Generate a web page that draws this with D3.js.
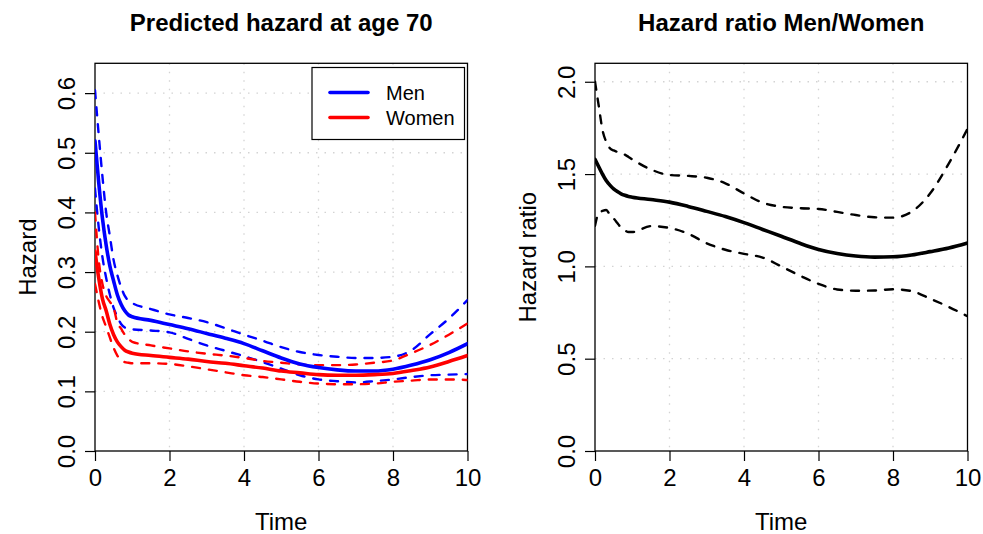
<!DOCTYPE html>
<html>
<head>
<meta charset="utf-8">
<script src="https://cdn.jsdelivr.net/npm/d3@7/dist/d3.min.js"></script>
<style>
  html, body { margin: 0; padding: 0; background: #fff; }
  svg { display: block; font-family: "Liberation Sans", Arial, Helvetica, sans-serif; }
</style>
</head>
<body>
<svg id="chart" width="983" height="534"></svg>
<script>
// Follow-up time (years) at which each curve is read
const time = [0, 0.1, 0.2, 0.3, 0.4, 0.5, 0.6, 0.7, 0.8, 0.9, 1, 1.5, 2, 2.5, 3, 3.5, 4, 4.5, 5, 5.5, 6, 6.5, 7, 7.5, 8, 8.5, 9, 9.5, 10];

// Predicted hazard at age 70, men (estimate and 95% band)
const menHazard = [0.52, 0.45, 0.39, 0.345, 0.31, 0.285, 0.262, 0.246, 0.235, 0.228, 0.225, 0.219, 0.212, 0.205, 0.197, 0.189, 0.180, 0.168, 0.156, 0.146, 0.140, 0.136, 0.134, 0.134, 0.137, 0.144, 0.153, 0.165, 0.180];
const menLower  = [0.44, 0.375, 0.325, 0.29, 0.262, 0.24, 0.225, 0.213, 0.207, 0.205, 0.204, 0.202, 0.199, 0.188, 0.177, 0.168, 0.159, 0.149, 0.138, 0.127, 0.120, 0.117, 0.115, 0.117, 0.120, 0.124, 0.127, 0.128, 0.129];
const menUpper  = [0.605, 0.53, 0.46, 0.40, 0.36, 0.32, 0.295, 0.275, 0.26, 0.252, 0.248, 0.238, 0.229, 0.223, 0.216, 0.206, 0.195, 0.185, 0.174, 0.166, 0.161, 0.158, 0.156, 0.156, 0.158, 0.169, 0.196, 0.222, 0.253];

// Predicted hazard at age 70, women (estimate and 95% band)
const womenHazard = [0.335, 0.29, 0.255, 0.235, 0.212, 0.195, 0.183, 0.175, 0.169, 0.166, 0.164, 0.160, 0.157, 0.154, 0.150, 0.147, 0.143, 0.139, 0.134, 0.131, 0.128, 0.127, 0.127, 0.128, 0.130, 0.135, 0.141, 0.150, 0.160];
const womenLower  = [0.28, 0.25, 0.225, 0.208, 0.19, 0.173, 0.16, 0.152, 0.149, 0.148, 0.147, 0.147, 0.146, 0.142, 0.137, 0.132, 0.127, 0.124, 0.120, 0.116, 0.113, 0.112, 0.112, 0.113, 0.116, 0.118, 0.120, 0.120, 0.119];
const womenUpper  = [0.40, 0.32, 0.28, 0.26, 0.25, 0.24, 0.215, 0.205, 0.195, 0.188, 0.183, 0.177, 0.172, 0.167, 0.163, 0.16, 0.156, 0.151, 0.148, 0.145, 0.144, 0.144, 0.145, 0.148, 0.152, 0.164, 0.178, 0.195, 0.214];

// Hazard ratio men / women (estimate and 95% band)
const ratio      = [1.58, 1.54, 1.50, 1.465, 1.44, 1.42, 1.405, 1.393, 1.385, 1.379, 1.375, 1.362, 1.348, 1.325, 1.298, 1.27, 1.237, 1.2, 1.163, 1.125, 1.092, 1.07, 1.056, 1.05, 1.052, 1.062, 1.08, 1.10, 1.127];
const ratioLower = [1.22, 1.29, 1.30, 1.305, 1.28, 1.26, 1.235, 1.21, 1.195, 1.186, 1.186, 1.218, 1.208, 1.177, 1.125, 1.09, 1.068, 1.048, 1.0, 0.95, 0.905, 0.875, 0.868, 0.869, 0.876, 0.866, 0.825, 0.78, 0.73];
const ratioUpper = [2.0, 1.87, 1.74, 1.675, 1.64, 1.628, 1.62, 1.613, 1.605, 1.593, 1.58, 1.525, 1.495, 1.49, 1.48, 1.45, 1.395, 1.345, 1.323, 1.315, 1.311, 1.295, 1.278, 1.266, 1.264, 1.296, 1.396, 1.558, 1.745];

// Axis ticks
const timeTicks   = [0, 2, 4, 6, 8, 10];
const hazardTicks = [0.0, 0.1, 0.2, 0.3, 0.4, 0.5, 0.6];
const ratioTicks  = [0.0, 0.5, 1.0, 1.5, 2.0];

const legendLabels = ["Men", "Women"];
const legendColors = ["#0000ff", "#ff0000"];

const svg = d3.select("#chart");
const FS = 24;

function panel(opts) {
  const { left, right, top, bottom, yMax, yTicks, title, ylab, clipId } = opts;
  const x = d3.scaleLinear().domain([0, 10]).range([left, right]);
  const y = d3.scaleLinear().domain([0, yMax]).range([bottom, top]);
  const g = svg.append("g");

  g.append("clipPath").attr("id", clipId)
    .append("rect").attr("x", left).attr("y", top)
    .attr("width", right - left).attr("height", bottom - top);

  // dotted grid at the tick positions
  const grid = g.append("g").attr("stroke", "#d3d3d3").attr("stroke-width", 1.3)
    .attr("stroke-dasharray", "1.5,7").attr("fill", "none");
  timeTicks.filter(t => t > 0 && t < 10).forEach(t => {
    grid.append("line").attr("x1", x(t)).attr("x2", x(t)).attr("y1", top).attr("y2", bottom);
  });
  yTicks.filter(v => v > 0).forEach(v => {
    grid.append("line").attr("x1", left).attr("x2", right).attr("y1", y(v)).attr("y2", y(v));
  });

  // axes
  const xAxis = d3.axisBottom(x).tickValues(timeTicks).tickSize(10).tickPadding(8)
    .tickFormat(d3.format("d"));
  const xa = g.append("g").attr("transform", `translate(0,${bottom})`).call(xAxis);
  xa.select(".domain").remove();
  xa.selectAll("line").attr("stroke", "#000").attr("stroke-width", 1.2);
  xa.selectAll("text").attr("font-size", FS).attr("fill", "#000")
    .attr("font-family", "Liberation Sans, Arial, sans-serif").attr("dy", "0.71em");

  const yAxis = d3.axisLeft(y).tickValues(yTicks).tickSize(10).tickFormat(d3.format(".1f"));
  const ya = g.append("g").attr("transform", `translate(${left},0)`).call(yAxis);
  ya.select(".domain").remove();
  ya.selectAll("line").attr("stroke", "#000").attr("stroke-width", 1.2);
  ya.selectAll("text")
    .attr("font-size", FS).attr("fill", "#000")
    .attr("font-family", "Liberation Sans, Arial, sans-serif")
    .attr("text-anchor", "middle").attr("x", null).attr("dy", null)
    .attr("transform", "translate(-20,0) rotate(-90)");

  // plot frame
  g.append("rect").attr("x", left).attr("y", top)
    .attr("width", right - left).attr("height", bottom - top)
    .attr("fill", "none").attr("stroke", "#000").attr("stroke-width", 1.3);

  // titles
  g.append("text").attr("x", (left + right) / 2).attr("y", 31)
    .attr("text-anchor", "middle").attr("font-size", 24).attr("font-weight", "bold")
    .text(title);
  g.append("text").attr("x", (left + right) / 2).attr("y", 530)
    .attr("text-anchor", "middle").attr("font-size", FS).text("Time");
  g.append("text")
    .attr("transform", `translate(${left - 59},${(top + bottom) / 2}) rotate(-90)`)
    .attr("text-anchor", "middle").attr("font-size", FS).text(ylab);

  const plot = g.append("g").attr("clip-path", `url(#${clipId})`);
  const line = d3.line().x((d, i) => x(time[i])).y(d => y(d)).curve(d3.curveMonotoneX);
  function draw(vals, color, dashed) {
    plot.append("path").datum(vals).attr("d", line)
      .attr("fill", "none").attr("stroke", color)
      .attr("stroke-width", dashed ? 2.4 : 3.6)
      .attr("stroke-linecap", "round").attr("stroke-linejoin", "round")
      .attr("stroke-dasharray", dashed ? "8,9" : null);
  }
  return { x, y, draw, g };
}

// Left: predicted hazard
const left = panel({ left: 95, right: 467.5, top: 63.3, bottom: 451, yMax: 0.65,
  yTicks: hazardTicks, title: "Predicted hazard at age 70", ylab: "Hazard", clipId: "clipL" });
left.draw(menLower, legendColors[0], true);
left.draw(menUpper, legendColors[0], true);
left.draw(womenLower, legendColors[1], true);
left.draw(womenUpper, legendColors[1], true);
left.draw(menHazard, legendColors[0], false);
left.draw(womenHazard, legendColors[1], false);

// legend
const lg = left.g.append("g");
lg.append("rect").attr("x", 312).attr("y", 67.5).attr("width", 152.5).attr("height", 72)
  .attr("fill", "#fff").attr("stroke", "#000").attr("stroke-width", 1.2);
legendLabels.forEach((lab, i) => {
  const yy = 92.5 + i * 25;
  lg.append("line").attr("x1", 330).attr("x2", 368).attr("y1", yy).attr("y2", yy)
    .attr("stroke", legendColors[i]).attr("stroke-width", 3.6).attr("stroke-linecap", "round");
  lg.append("text").attr("x", 386).attr("y", yy).attr("dy", "0.35em")
    .attr("font-size", 20).text(lab);
});

// Right: hazard ratio
const right = panel({ left: 595, right: 967.5, top: 63.3, bottom: 451, yMax: 2.1,
  yTicks: ratioTicks, title: "Hazard ratio Men/Women", ylab: "Hazard ratio", clipId: "clipR" });
right.draw(ratioLower, "#000", true);
right.draw(ratioUpper, "#000", true);
right.draw(ratio, "#000", false);
</script>
</body>
</html>
